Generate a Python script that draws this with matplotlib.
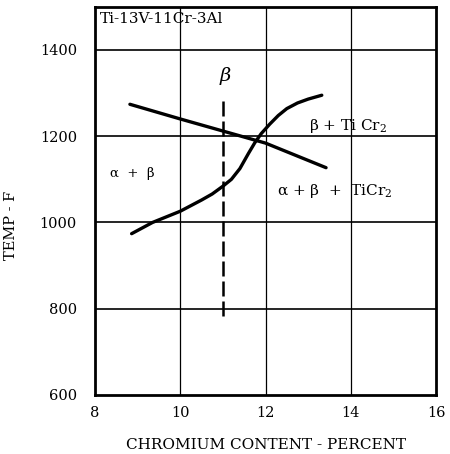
import numpy as np
import matplotlib.pyplot as plt

# solvus line (falling) and beta transus (rising S-curve)
cr_fall = [8.82, 10.0, 11.0, 12.0, 13.42]
temp_fall = [1274, 1240, 1212, 1184, 1127]

cr_rise = [8.86, 9.35, 10.0, 10.5, 10.75, 11.0, 11.2, 11.4, 11.6, 11.75,
           11.9, 12.1, 12.3, 12.5, 12.75, 13.0, 13.32]
temp_rise = [974, 1000, 1026, 1052, 1066, 1084, 1100, 1125, 1160, 1185,
             1206, 1228, 1248, 1264, 1277, 1286, 1295]

# dashed composition line at 11 Cr
cr_alloy = [11.0, 11.0]
temp_alloy = [784, 1293]

xticks = [8, 10, 12, 14, 16]
yticks = [600, 800, 1000, 1200, 1400]

plt.rcParams['font.family'] = ['DejaVu Serif']
plt.rcParams['mathtext.fontset'] = 'dejavuserif'

fig = plt.figure(figsize=(4.5, 4.54), dpi=100)
ax = fig.add_axes([0.211, 0.13, 0.758, 0.855])

ax.set_xlim(8, 16)
ax.set_ylim(600, 1500)
ax.set_xticks(xticks)
ax.set_yticks(yticks)
ax.tick_params(length=0, labelsize=10.5, pad=8)
ax.tick_params(axis='y', pad=13)

for x in xticks[1:-1]:
    ax.axvline(x, color='black', lw=0.9, zorder=1)
for y in yticks[1:]:
    ax.axhline(y, color='black', lw=1.2, zorder=1)

for s in ax.spines.values():
    s.set_linewidth(2)

ax.plot(cr_fall, temp_fall, color='black', lw=2.4, solid_capstyle='round')
ax.plot(cr_rise, temp_rise, color='black', lw=2.4, solid_capstyle='round',
        solid_joinstyle='round')
ax.plot(cr_alloy, temp_alloy, color='black', lw=1.8, dashes=(6, 2))

ax.text(8.12, 1472, 'Ti-13V-11Cr-3Al', fontsize=11, va='center', ha='left')
ax.text(11.07, 1340, r'$\beta$', fontsize=14, va='center', ha='center',
        style='italic')
ax.text(8.35, 1114, 'α  +  β', fontsize=9.5, va='center', ha='left')
ax.text(13.03, 1223, r'β + Ti Cr$_2$', fontsize=11, va='center', ha='left')
ax.text(12.28, 1072, r'α + β  +  TiCr$_2$', fontsize=11, va='center', ha='left')

ax.set_xlabel('CHROMIUM CONTENT - PERCENT', fontsize=11)
ax.xaxis.set_label_coords(0.5, -0.11)
ax.set_ylabel('TEMP - F', fontsize=10.5)
ax.yaxis.set_label_coords(-0.226, 0.438)

fig.savefig('out.png', dpi=100)
